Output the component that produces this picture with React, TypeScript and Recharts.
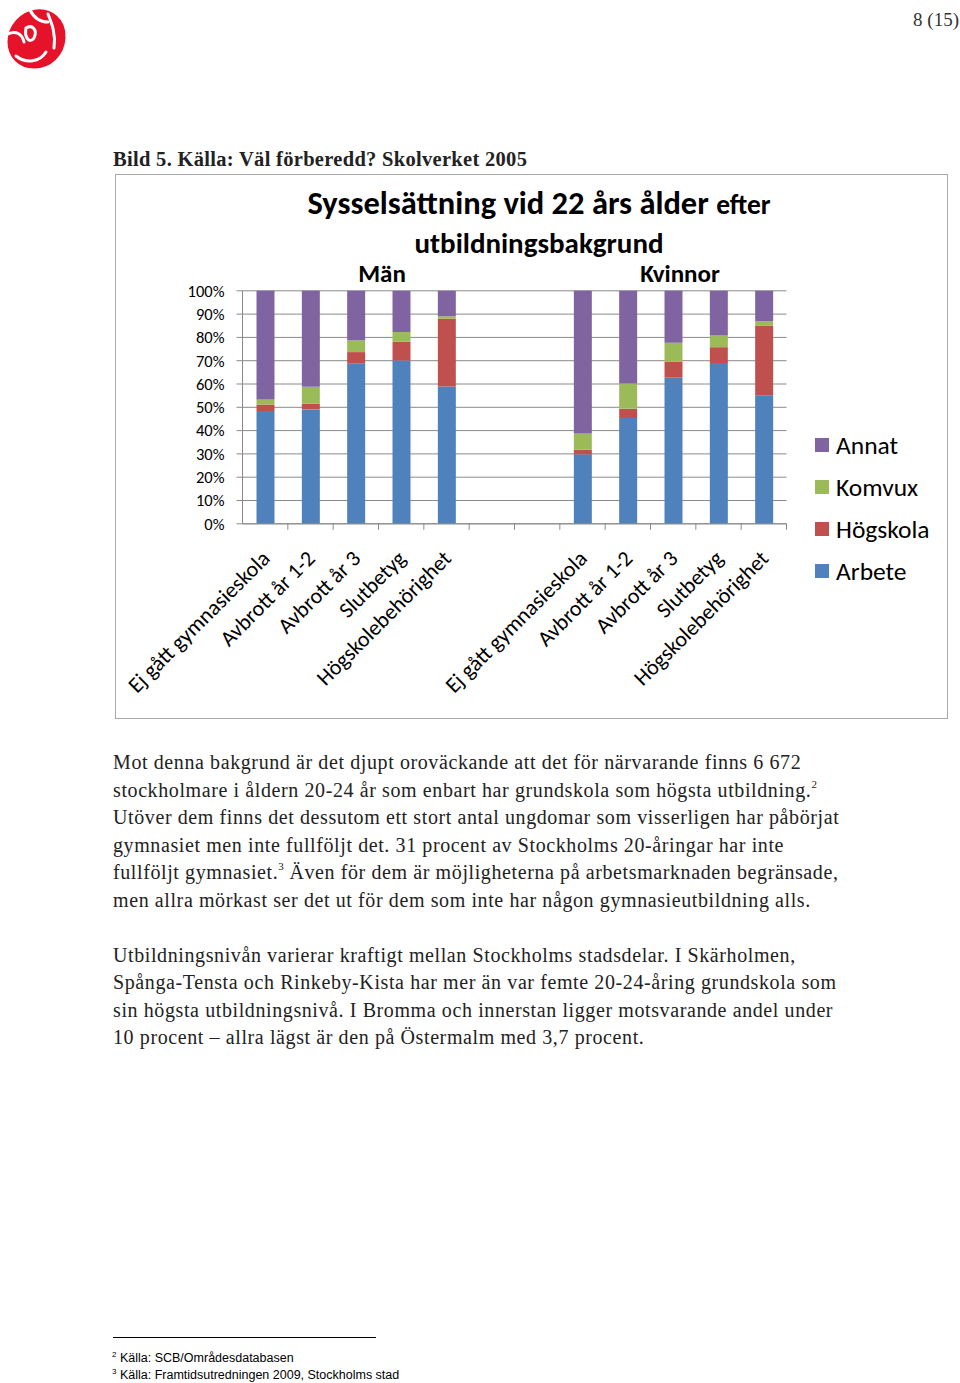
import React from "react";
import { BarChart, Bar, XAxis, YAxis, CartesianGrid } from "recharts";

// categories (two empty slots separate Män and Kvinnor)
const categories = [
  "Ej gått gymnasieskola",
  "Avbrott år 1-2",
  "Avbrott år 3",
  "Slutbetyg",
  "Högskolebehörighet",
  "",
  "",
  "Ej gått gymnasieskola",
  "Avbrott år 1-2",
  "Avbrott år 3",
  "Slutbetyg",
  "Högskolebehörighet",
];

// percent values, null for the empty slots
const arbete = [48.4, 49.1, 68.7, 70.1, 58.9, null, null, 29.8, 45.4, 62.7, 69.0, 55.2];
const hogskola = [2.8, 2.5, 5.0, 8.0, 29.1, null, null, 2.0, 4.0, 6.8, 6.8, 29.9];
const komvux = [2.2, 7.2, 5.0, 4.2, 1.1, null, null, 7.0, 10.8, 8.2, 5.0, 1.9];
const annat = [46.6, 41.2, 21.3, 17.7, 10.9, null, null, 61.2, 39.8, 22.3, 19.2, 13.0];

const yTicks = [0, 10, 20, 30, 40, 50, 60, 70, 80, 90, 100];

const series = [
  { key: "arbete", name: "Arbete", color: "#4F81BD", values: arbete },
  { key: "hogskola", name: "Högskola", color: "#C0504D", values: hogskola },
  { key: "komvux", name: "Komvux", color: "#9BBB59", values: komvux },
  { key: "annat", name: "Annat", color: "#8064A2", values: annat },
];

const data = categories.map((name, i) => {
  const row: Record<string, any> = { name };
  series.forEach((s) => (row[s.key] = s.values[i]));
  return row;
});

const FONT = "Carlito, Lato, 'Open Sans', sans-serif";
const SERIF = "'Liberation Serif', 'DejaVu Serif', serif";
const GRID = "#8a8a8a";

const bodyPara1 = [
  "Mot denna bakgrund är det djupt oroväckande att det för närvarande finns 6 672",
  "stockholmare i åldern 20-24 år som enbart har grundskola som högsta utbildning.|2",
  "Utöver dem finns det dessutom ett stort antal ungdomar som visserligen har påbörjat",
  "gymnasiet men inte fullföljt det. 31 procent av Stockholms 20-åringar har inte",
  "fullföljt gymnasiet.|3| Även för dem är möjligheterna på arbetsmarknaden begränsade,",
  "men allra mörkast ser det ut för dem som inte har någon gymnasieutbildning alls.",
];
const bodyPara2 = [
  "Utbildningsnivån varierar kraftigt mellan Stockholms stadsdelar. I Skärholmen,",
  "Spånga-Tensta och Rinkeby-Kista har mer än var femte 20-24-åring grundskola som",
  "sin högsta utbildningsnivå. I Bromma och innerstan ligger motsvarande andel under",
  "10 procent – allra lägst är den på Östermalm med 3,7 procent.",
];

function XTick(props: any) {
  const { x, y, payload } = props;
  const half = payload?.offset ?? 22.67;
  return (
    <g>
      <line x1={x + half} y1={y - 6} x2={x + half} y2={y} stroke={GRID} />
      <text
        x={x + 6}
        y={y + 30}
        textAnchor="end"
        transform={`rotate(-45, ${x + 6}, ${y + 30})`}
        fontFamily={FONT}
        fontSize={22}
        fill="#000"
      >
        {payload.value}
      </text>
    </g>
  );
}

function Line({ text }: { text: string }) {
  const parts = text.split("|");
  return (
    <div style={{ whiteSpace: "nowrap", height: 27.5 }}>
      {parts.map((p, i) =>
        i % 2 === 1 ? (
          <span key={i} style={{ fontSize: 11, lineHeight: 0, position: "relative", top: -9, letterSpacing: 0 }}>
            {p}
          </span>
        ) : (
          <span key={i}>{p}</span>
        )
      )}
    </div>
  );
}

function Logo() {
  return (
    <svg width={76} height={76} style={{ position: "absolute", left: 0, top: 0 }}>
      <g stroke="#fff" strokeWidth={3} fill="#E5122A">
        <path d="M36 8 C52 6 68 18 67 38 C66 56 52 70 34 70 C18 70 6 58 6 42 C6 24 20 10 36 8 Z" />
      </g>
      <g stroke="#fff" strokeWidth={3} fill="none" strokeLinecap="round">
        <path d="M30 10 C34 18 40 22 48 22" />
        <path d="M48 14 C52 24 56 34 54 48" />
        <path d="M16 56 C26 64 40 62 46 52" />
        <path d="M8 34 C16 30 22 34 24 42" />
        <path d="M26 28 C32 24 38 30 34 38 C30 44 24 38 26 28 Z" />
      </g>
    </svg>
  );
}

export default function App() {
  return (
    <div style={{ position: "absolute", left: 0, top: 0, width: 960, height: 1383, background: "#fff" }}>
      <Logo />
      <div style={{ position: "absolute", right: 1, top: 9, fontFamily: SERIF, fontSize: 19, color: "#333" }}>
        8 (15)
      </div>
      <div
        style={{
          position: "absolute",
          left: 113,
          top: 148,
          fontFamily: SERIF,
          fontSize: 20.5,
          letterSpacing: 0.3,
          fontWeight: "bold",
          color: "#222",
          whiteSpace: "nowrap",
        }}
      >
        Bild 5. Källa: Väl förberedd? Skolverket 2005
      </div>

      <div
        style={{
          position: "absolute",
          left: 115,
          top: 174,
          width: 833,
          height: 545,
          boxSizing: "border-box",
          border: "1.5px solid #a8a8a8",
        }}
      >
        <BarChart
          width={830}
          height={542}
          data={data}
          margin={{ top: 115.8, right: 159.5, bottom: 13.2, left: 66.5 }}
          barSize={18}
        >
          <CartesianGrid vertical={false} stroke={GRID} />
          <XAxis
            dataKey="name"
            interval={0}
            height={180}
            axisLine={{ stroke: GRID }}
            tickLine={false}
            tickSize={6}
            tickMargin={0}
            tick={<XTick />}
          />
          <YAxis
            domain={[0, 100]}
            ticks={yTicks}
            interval={0}
            width={60}
            tickFormatter={(v) => `${v}%`}
            axisLine={{ stroke: GRID }}
            tickLine={{ stroke: GRID }}
            tickSize={6}
            tickMargin={12}
            tick={{ fontFamily: FONT, fontSize: 16.5, fill: "#000" }}
          />
          {series.map((s) => (
            <Bar
              key={s.key}
              dataKey={s.key}
              name={s.name}
              stackId="a"
              fill={s.color}
              isAnimationActive={false}
            />
          ))}
        </BarChart>

        <div
          style={{
            position: "absolute",
            left: 0,
            width: 846,
            top: 8,
            textAlign: "center",
            fontFamily: FONT,
            fontWeight: "bold",
            color: "#000",
            whiteSpace: "nowrap",
          }}
        >
          <div style={{ fontSize: 32.5, lineHeight: "40px" }}>
            Sysselsättning vid 22 års ålder <span style={{ fontSize: 27.5 }}>efter</span>
          </div>
          <div style={{ fontSize: 29, lineHeight: "36px" }}>utbildningsbakgrund</div>
        </div>
        <div
          style={{ position: "absolute", left: 216, top: 83, width: 100, textAlign: "center", fontFamily: FONT, fontWeight: "bold", fontSize: 25 }}
        >
          Män
        </div>
        <div
          style={{ position: "absolute", left: 494, top: 83, width: 140, textAlign: "center", fontFamily: FONT, fontWeight: "bold", fontSize: 25 }}
        >
          Kvinnor
        </div>

        <div style={{ position: "absolute", left: 699, top: 249, fontFamily: FONT, fontSize: 25.5 }}>
          {[...series].reverse().map((s) => (
            <div key={s.key} style={{ display: "flex", alignItems: "center", height: 42 }}>
              <span style={{ display: "inline-block", width: 14, height: 14, background: s.color, marginRight: 7 }} />
              <span>{s.name}</span>
            </div>
          ))}
        </div>
      </div>

      <div
        style={{
          position: "absolute",
          left: 113,
          top: 749,
          fontFamily: SERIF,
          fontSize: 20,
          letterSpacing: 0.6,
          lineHeight: "27.5px",
          color: "#222",
        }}
      >
        {bodyPara1.map((t, i) => (
          <Line key={i} text={t} />
        ))}
        <div style={{ height: 27.5 }} />
        {bodyPara2.map((t, i) => (
          <Line key={i} text={t} />
        ))}
      </div>

      <div style={{ position: "absolute", left: 113, top: 1337, width: 263, borderTop: "1px solid #000" }} />
      <div
        style={{
          position: "absolute",
          left: 112,
          top: 1350,
          fontFamily: "'Liberation Sans', Arial, sans-serif",
          fontSize: 12.5,
          lineHeight: "16.5px",
          color: "#000",
        }}
      >
        <div>
          <span style={{ fontSize: 8, lineHeight: 0, position: "relative", top: -5 }}>2</span> Källa: SCB/Områdesdatabasen
        </div>
        <div>
          <span style={{ fontSize: 8, lineHeight: 0, position: "relative", top: -5 }}>3</span> Källa: Framtidsutredningen 2009, Stockholms stad
        </div>
      </div>
    </div>
  );
}
